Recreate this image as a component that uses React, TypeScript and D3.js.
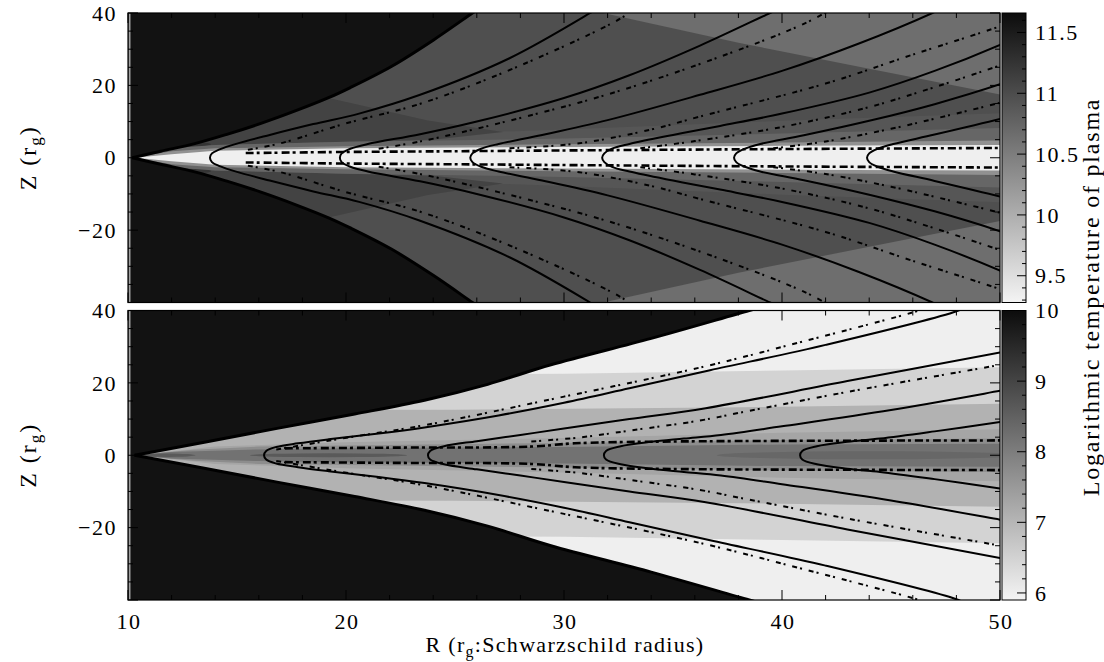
import React from "react";
import * as d3 from "d3";

type P = [number, number];

// ---------- axes ----------
const R_RANGE: P = [10, 50];
const Z_RANGE: P = [-40, 40];
const R_TICK_LABELS = [10, 20, 30, 40, 50];
const Z_TICK_LABELS = [40, 20, 0, -20];

const TOP_CBAR_RANGE: P = [9.28, 11.66];
const TOP_CBAR_LABELS = [9.5, 10, 10.5, 11, 11.5];
const BOT_CBAR_RANGE: P = [5.9, 10.0];
const BOT_CBAR_LABELS = [6, 7, 8, 9, 10];

// ---------- top panel (log T values of regions) ----------
const TOP_T_OUTSIDE = 11.6;
const TOP_T_DISK = 10.97;
const TOP_T_L0 = 10.9;
const TOP_T_DARK = 11.1;
const TOP_T_SMUDGE = 11.25;
const TOP_T_LIGHT = 10.65;
const TOP_T_L1 = 10.74;
const TOP_T_L2 = 10.3;
const TOP_T_W = 9.33;

const TOP_EDGE: P[] = [[10.2, 0], [11.5, 1.8], [13.06, 3.9], [14.5, 6.4], [16.1, 9.5], [17.7, 13], [19.2, 16.6], [20.2, 19.4], [22.1, 25.3], [24, 32.5], [25.8, 40], [26.4, 42.5]];
const TOP_L0_EDGE: P[] = [[10.2, 0], [12, 2.8], [14, 4.2], [20, 5.8], [30, 7.8], [40, 10.2], [50, 12.3]];
const TOP_L1_EDGE: P[] = [[10.2, 0], [12, 2.6], [14, 3.5], [20, 4.4], [30, 5.3], [40, 6.7], [50, 8.2]];
const TOP_L2_EDGE: P[] = [[10.2, 0], [12, 1.8], [14, 2.6], [20, 3.2], [30, 3.7], [40, 4.2], [50, 4.8]];
const TOP_W_EDGE: P[] = [[10.3, 0], [12, 1.0], [14, 1.9], [20, 2.6], [30, 3.0], [40, 3.3], [50, 3.5]];
const TOP_DARK_WEDGE: P[] = [[11, 2.2], [11, 12], [17.5, 18.8], [19.0, 16.8], [23.76, 10.3], [27.2, 7.1], [24, 5], [20, 4.4], [14, 3.5], [12, 2.6]];
const TOP_SMUDGE: P = [12.9, 3.7];
const TOP_LIGHT_EDGE: P[] = [[31.8, 40], [38, 31.8], [44, 24.6], [50, 17.5]];

const TOP_CONTOURS: P[][] = [
  [[13.76, 0], [13.85, 1.2], [14.2, 2.3], [15, 3.9], [16.5, 6.3], [18.5, 9.3], [20.6, 12.2], [23.4, 17.4], [27.5, 27.5], [31.2, 40], [31.6, 41.5]],
  [[19.72, 0], [19.8, 1.2], [20.2, 2.5], [21, 3.8], [23.4, 6.5], [26, 10], [30, 16.5], [33, 22.8], [36.24, 31], [39.45, 40], [40, 41.5]],
  [[25.7, 0], [25.8, 1.2], [26.2, 2.5], [27, 3.8], [29, 6.3], [32, 10.4], [36.24, 17.4], [40, 24], [43.5, 31.5], [46.9, 40], [47.4, 41.5]],
  [[31.75, 0], [31.85, 1.2], [32.2, 2.5], [33, 3.8], [35, 6.3], [37.16, 8.8], [40, 12.2], [44, 18], [47, 24], [50, 31.2], [51, 34]],
  [[37.8, 0], [37.9, 1.2], [38.3, 2.5], [39, 3.8], [41, 6.2], [44, 10.2], [47, 14.8], [50, 20.3], [51, 22.5]],
  [[43.9, 0], [44, 1.2], [44.4, 2.5], [45.1, 3.8], [47, 6.4], [50, 10.7], [51, 12.3]],
];
const TOP_DASHDOT: P[][] = [
  [[15.5, 2.2], [17, 4], [20, 9.5], [23.5, 15.1], [28, 25.5], [32.6, 38.5], [33.3, 41.5]],
  [[21.5, 2.5], [23.4, 4.5], [27, 9.5], [32, 17.5], [37.2, 28], [41, 37], [42.4, 41.5]],
  [[27.5, 2.6], [30.7, 4], [34, 7.8], [36.24, 11.4], [42, 20.5], [46, 28.5], [50, 36.3], [51, 38.5]],
  [[33.5, 2.6], [36, 4.6], [40, 8.5], [44, 14], [47, 19.5], [50, 25.5], [51, 27.5]],
  [[39.6, 2.6], [42, 4.5], [45, 8], [47.5, 11.5], [50, 15.2], [51, 16.8]],
];
const TOP_MID_DASH: P[] = [[15.4, 1.3], [20, 1.6], [25, 1.8], [32, 2.1], [40, 2.4], [50, 2.7]];

// ---------- bottom panel ----------
const BOT_T_OUTSIDE = 9.9;
const BOT_T_DISK = 7.07;
const BOT_T_OUT1 = 6.48;
const BOT_T_OUT2 = 5.99;
const BOT_T_IN1 = 7.3;
const BOT_T_IN2 = 7.72;
const BOT_T_IN3 = 8.2;
const BOT_T_CORE = 8.62;
const BOT_T_CORE2 = 8.4;

const BOT_EDGE: P[] = [[10.3, 0], [13.5, 3.6], [16.9, 7.5], [20.4, 11.4], [23.6, 15.2], [26.5, 19.6], [29.4, 25], [34, 32.3], [38.5, 40], [40, 42.5]];
const BOT_OUT1_EDGE: P[] = [[10, 12.4], [25, 12.6], [37, 13.2], [50, 14.2]];
const BOT_OUT2_EDGE: P[] = [[10, 22], [30, 22.5], [40, 23.4], [50, 24.3]];
const BOT_IN1_EDGE: P[] = [[10.3, 0], [14, 2.4], [20, 3.6], [30, 4.8], [40, 6.2], [50, 7.2]];
const BOT_IN2_EDGE: P[] = [[10.3, 0], [13, 1.5], [16, 2.4], [20, 2.7], [30, 3.4], [40, 4.2], [50, 4.6]];
const BOT_IN3_EDGE: P[] = [[10.3, 0], [12, 0.9], [16, 1.6], [20, 1.9], [30, 2.3], [40, 3.0], [50, 3.2]];
const BOT_CORES: { c: P; rx: number; ry: number; t: number }[] = [
  { c: [11.8, 0], rx: 1.3, ry: 0.45, t: BOT_T_CORE },
  { c: [19.2, 0], rx: 3.6, ry: 0.55, t: BOT_T_CORE },
  { c: [44, 0], rx: 7, ry: 1.1, t: BOT_T_CORE2 },
];

const BOT_CONTOURS: P[][] = [
  [[16.24, 0], [16.34, 1.2], [16.8, 2.3], [17.8, 3.3], [19.2, 4.4], [21.5, 6], [23.6, 7.7], [27, 11], [30, 14.5], [33, 18.5], [36.7, 23.5], [42, 30.5], [48, 39.8], [48.6, 41.5]],
  [[23.76, 0], [23.86, 1.2], [24.5, 2.5], [26, 3.9], [28, 5.6], [30, 7.4], [33, 10], [36.5, 13], [43, 20.5], [50, 28.4], [51, 29.6]],
  [[31.83, 0], [31.93, 1.2], [32.6, 2.5], [34, 3.7], [35.5, 4.6], [37.2, 5.6], [40, 8], [45, 12.5], [50, 17.8], [51, 18.9]],
  [[40.83, 0], [40.93, 1.2], [41.6, 2.5], [43, 3.7], [44.5, 4.6], [47, 6.6], [50, 9.2], [51, 10.1]],
];
const BOT_DASHDOT: P[][] = [
  [[16.8, 1.6], [18, 2.8], [20.2, 5], [23.6, 8.3], [30, 16.2], [36.5, 24.6], [41, 31.5], [46.3, 40], [47, 41.5]],
  [[28.5, 3.8], [30.7, 4.9], [33, 6.8], [36.24, 9.6], [38.1, 11.8], [43, 17.5], [50, 25], [51, 26.2]],
];
const BOT_MID_DASH: P[] = [[17.2, 1.9], [22, 2.1], [28.5, 2.4], [30.5, 3.3], [35, 3.8], [50, 4.1]];

// ---------- layout ----------
const X0 = 128, X1 = 1000;
const CB_X0 = 1002, CB_X1 = 1026;
const FONT = "'Liberation Serif', 'DejaVu Serif', serif";

const mirror = (pts: P[]): P[] => pts.map(([r, z]) => [r, -z] as P);
const innerBand = (edge: P[]): P[] => {
  const last = edge[edge.length - 1][1];
  return [...edge, [54, last], [54, -last], ...mirror(edge).reverse()];
};
const outerBands = (edge: P[]): P[][] => {
  const up: P[] = [[6, edge[0][1]], ...edge, [54, edge[edge.length - 1][1]], [54, 48], [6, 48]];
  return [up, mirror(up)];
};
const lightWedge = (edge: P[]): P[][] => {
  const up: P[] = [[edge[0][0] - 1.5, edge[0][1] + 2], ...edge, [54, edge[edge.length - 1][1] - 4], [54, 48], [edge[0][0] - 1.5, 48]];
  return [up, mirror(up)];
};

type Layer = { t: number; polys?: P[][]; ellipses?: { c: P; rx: number; ry: number }[] };

interface PanelCfg {
  id: string;
  y0: number;
  y1: number;
  edge: P[];
  tOutside: number;
  layers: Layer[];
  contours: P[][];
  dashdot: P[][];
  midDash: P[];
  cbRange: P;
  cbLabels: number[];
  cbMinorStep: number;
  cbMajorStep: number;
}

function Panel({ cfg }: { cfg: PanelCfg }) {
  const x = d3.scaleLinear().domain(R_RANGE).range([X0, X1]);
  const y = d3.scaleLinear().domain(Z_RANGE).range([cfg.y1, cfg.y0]);
  const color = d3.scaleLinear<string>().domain(cfg.cbRange).range(["#f4f4f4", "#0c0c0c"]);
  const cy = d3.scaleLinear().domain(cfg.cbRange).range([cfg.y1, cfg.y0]);

  const smooth = d3.line<P>().x((d) => x(d[0])).y((d) => y(d[1])).curve(d3.curveCatmullRom.alpha(0.5));
  const poly = d3.line<P>().x((d) => x(d[0])).y((d) => y(d[1])).curve(d3.curveLinearClosed);

  const up = cfg.edge;
  const lo = mirror(up);
  const dUp = smooth(up) as string;
  const dLo = smooth(lo) as string;
  const dLoRev = (smooth(lo.slice().reverse()) as string).replace(/^M/, "L");
  const diskD = dUp + `L${x(60)},${y(48)}L${x(60)},${y(-48)}` + dLoRev + "Z";

  const contourPts = (c: P[]): P[] => [...mirror(c).reverse(), ...c.slice(1)];

  const rTicks = d3.range(10, 50.001, 2);
  const zTicks = d3.range(-40, 40.001, 5);
  const cbTicks = d3.range(
    Math.ceil(cfg.cbRange[0] / cfg.cbMinorStep - 1e-6) * cfg.cbMinorStep,
    cfg.cbRange[1] + 1e-6,
    cfg.cbMinorStep
  );
  const isMajorCb = (v: number) => Math.abs(v / cfg.cbMajorStep - Math.round(v / cfg.cbMajorStep)) < 1e-4;

  const plotId = `${cfg.id}-plot`;
  const diskId = `${cfg.id}-disk`;
  const gradId = `${cfg.id}-grad`;
  const h = cfg.y1 - cfg.y0;

  return (
    <g>
      <defs>
        <clipPath id={plotId}>
          <rect x={X0} y={cfg.y0} width={X1 - X0} height={h} />
        </clipPath>
        <clipPath id={diskId}>
          <path d={diskD} />
        </clipPath>
        <linearGradient id={gradId} x1="0" y1="1" x2="0" y2="0">
          <stop offset="0" stopColor={color(cfg.cbRange[0])} />
          <stop offset="1" stopColor={color(cfg.cbRange[1])} />
        </linearGradient>
      </defs>

      <g clipPath={`url(#${plotId})`}>
        <rect x={X0} y={cfg.y0} width={X1 - X0} height={h} fill={color(cfg.tOutside)} />
        <g clipPath={`url(#${diskId})`}>
          {cfg.layers.map((L, i) => (
            <g key={i} fill={color(L.t)}>
              {(L.polys || []).map((p, j) => (
                <path key={j} d={poly(p) as string} />
              ))}
              {(L.ellipses || []).map((e, j) => (
                <ellipse
                  key={"e" + j}
                  cx={x(e.c[0])}
                  cy={y(e.c[1])}
                  rx={x(e.c[0] + e.rx) - x(e.c[0])}
                  ry={y(0) - y(e.ry)}
                />
              ))}
            </g>
          ))}
        </g>
        <rect x={X0 + 0.5} y={cfg.y0} width={2} height={h} fill="#a0a0a0" />
        <path d={dUp} fill="none" stroke="#000" strokeWidth={3} />
        <path d={dLo} fill="none" stroke="#000" strokeWidth={3} />
        {cfg.midDash.length > 0 && (
          <g fill="none" stroke="#000" strokeWidth={2.6} strokeDasharray="8 3 3 4">
            <path d={smooth(cfg.midDash) as string} />
            <path d={smooth(mirror(cfg.midDash)) as string} />
          </g>
        )}
        <g fill="none" stroke="#000" strokeWidth={2} strokeDasharray="5 3 2 7">
          {cfg.dashdot.map((c, i) => (
            <g key={i}>
              <path d={smooth(c) as string} />
              <path d={smooth(mirror(c)) as string} />
            </g>
          ))}
        </g>
        <g fill="none" stroke="#000" strokeWidth={2}>
          {cfg.contours.map((c, i) => (
            <path key={i} d={smooth(contourPts(c)) as string} />
          ))}
        </g>
      </g>

      {/* frame + ticks */}
      <rect x={X0} y={cfg.y0} width={X1 - X0} height={h} fill="none" stroke="#000" strokeWidth={1.2} />
      <g stroke="#000" strokeWidth={1}>
        {rTicks.map((r) => {
          const L = r % 10 === 0 ? 10 : 5;
          return (
            <g key={"r" + r}>
              <line x1={x(r)} x2={x(r)} y1={cfg.y1} y2={cfg.y1 - L} />
              <line x1={x(r)} x2={x(r)} y1={cfg.y0} y2={cfg.y0 + L} />
            </g>
          );
        })}
        {zTicks.map((z) => {
          const L = z % 20 === 0 ? 10 : 5;
          return (
            <g key={"z" + z}>
              <line x1={X0} x2={X0 + L} y1={y(z)} y2={y(z)} />
              <line x1={X1} x2={X1 - L} y1={y(z)} y2={y(z)} />
            </g>
          );
        })}
      </g>
      <g fontFamily={FONT} fontSize={22} fill="#000" textAnchor="end" letterSpacing={1.5}>
        {Z_TICK_LABELS.map((z) => (
          <text key={z} x={117} y={y(z)} dy="0.35em">
            {z < 0 ? "\u2212" + Math.abs(z) : String(z)}
          </text>
        ))}
      </g>
      <text
        transform={`translate(36,${(cfg.y0 + cfg.y1) / 2}) rotate(-90)`}
        fontFamily={FONT}
        fontSize={24}
        letterSpacing={2}
        textAnchor="middle"
      >
        Z (r
        <tspan fontSize={17} dy={5}>
          g
        </tspan>
        <tspan dy={-5}>)</tspan>
      </text>

      {/* colorbar */}
      <rect x={CB_X0} y={cfg.y0} width={CB_X1 - CB_X0} height={h} fill={`url(#${gradId})`} stroke="#000" strokeWidth={1} />
      <g stroke="#000" strokeWidth={1}>
        {cbTicks.map((v, i) => (
          <line key={i} x1={CB_X1} x2={CB_X1 - (isMajorCb(v) ? 9 : 4)} y1={cy(v)} y2={cy(v)} />
        ))}
      </g>
      <g fontFamily={FONT} fontSize={22} fill="#000" letterSpacing={1.5}>
        {cfg.cbLabels.map((v) => (
          <text key={v} x={1035} y={cy(v)} dy="0.35em">
            {String(v)}
          </text>
        ))}
      </g>
    </g>
  );
}

export default function App() {
  const topCfg: PanelCfg = {
    id: "top",
    y0: 13,
    y1: 302.5,
    edge: TOP_EDGE,
    tOutside: TOP_T_OUTSIDE,
    layers: [
      { t: TOP_T_DISK, polys: [[[5, -50], [55, -50], [55, 50], [5, 50]]] },
      { t: TOP_T_L0, polys: [innerBand(TOP_L0_EDGE)] },
      { t: TOP_T_DARK, polys: [TOP_DARK_WEDGE, mirror(TOP_DARK_WEDGE)] },
      {
        t: TOP_T_SMUDGE,
        ellipses: [
          { c: TOP_SMUDGE, rx: 0.9, ry: 0.6 },
          { c: [TOP_SMUDGE[0], -TOP_SMUDGE[1]], rx: 0.9, ry: 0.6 },
        ],
      },
      { t: TOP_T_LIGHT, polys: lightWedge(TOP_LIGHT_EDGE) },
      { t: TOP_T_L1, polys: [innerBand(TOP_L1_EDGE)] },
      { t: TOP_T_L2, polys: [innerBand(TOP_L2_EDGE)] },
      { t: TOP_T_W, polys: [innerBand(TOP_W_EDGE)] },
    ],
    contours: TOP_CONTOURS,
    dashdot: TOP_DASHDOT,
    midDash: TOP_MID_DASH,
    cbRange: TOP_CBAR_RANGE,
    cbLabels: TOP_CBAR_LABELS,
    cbMinorStep: 0.1,
    cbMajorStep: 0.5,
  };
  const botCfg: PanelCfg = {
    id: "bot",
    y0: 310.5,
    y1: 600,
    edge: BOT_EDGE,
    tOutside: BOT_T_OUTSIDE,
    layers: [
      { t: BOT_T_DISK, polys: [[[5, -50], [55, -50], [55, 50], [5, 50]]] },
      { t: BOT_T_OUT1, polys: outerBands(BOT_OUT1_EDGE) },
      { t: BOT_T_OUT2, polys: outerBands(BOT_OUT2_EDGE) },
      { t: BOT_T_IN1, polys: [innerBand(BOT_IN1_EDGE)] },
      { t: BOT_T_IN2, polys: [innerBand(BOT_IN2_EDGE)] },
      { t: BOT_T_IN3, polys: [innerBand(BOT_IN3_EDGE)] },
      ...BOT_CORES.map((c) => ({ t: c.t, ellipses: [{ c: c.c, rx: c.rx, ry: c.ry }] })),
    ],
    contours: BOT_CONTOURS,
    dashdot: BOT_DASHDOT,
    midDash: BOT_MID_DASH,
    cbRange: BOT_CBAR_RANGE,
    cbLabels: BOT_CBAR_LABELS,
    cbMinorStep: 0.2,
    cbMajorStep: 1,
  };
  const x = d3.scaleLinear().domain(R_RANGE).range([X0, X1]);

  return (
    <svg
      width={1104}
      height={662}
      style={{ position: "absolute", left: 0, top: 0, background: "#fff" }}
    >
      <rect width={1104} height={662} fill="#fff" />
      <Panel cfg={topCfg} />
      <Panel cfg={botCfg} />
      <g fontFamily={FONT} fontSize={22} textAnchor="middle" letterSpacing={1.5}>
        {R_TICK_LABELS.map((r) => (
          <text key={r} x={x(r) + 1} y={621} dy="0.35em">
            {r}
          </text>
        ))}
      </g>
      <text x={565} y={652} fontFamily={FONT} fontSize={22} letterSpacing={1.3} textAnchor="middle">
        R (r
        <tspan fontSize={16} dy={5}>
          g
        </tspan>
        <tspan dy={-5}>:Schwarzschild radius)</tspan>
      </text>
      <text
        transform="translate(1099,297) rotate(-90)"
        fontFamily={FONT}
        fontSize={24}
        letterSpacing={1.8}
        textAnchor="middle"
      >
        Logarithmic temperature of plasma
      </text>
    </svg>
  );
}
